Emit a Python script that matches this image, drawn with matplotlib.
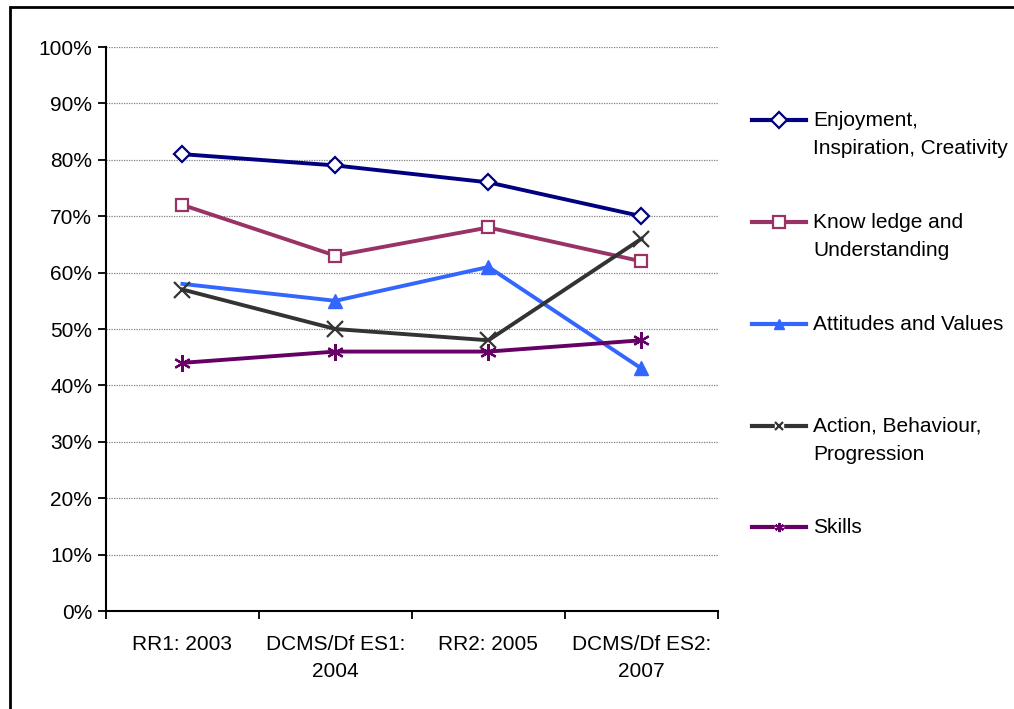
import matplotlib
matplotlib.use("Agg")
import matplotlib.pyplot as plt
from matplotlib.lines import Line2D
from matplotlib.patches import Rectangle

plt.rcParams['font.family'] = ['Liberation Sans', 'DejaVu Sans']

categories = ["RR1: 2003", "DCMS/Df ES1:\n2004", "RR2: 2005", "DCMS/Df ES2:\n2007"]
y_ticks = [0, 10, 20, 30, 40, 50, 60, 70, 80, 90, 100]

enjoyment = [81, 79, 76, 70]
knowledge = [72, 63, 68, 62]
attitudes = [58, 55, 61, 43]
action = [57, 50, 48, 66]
skills = [44, 46, 46, 48]

series = [
    ("Enjoyment,\nInspiration, Creativity", enjoyment, "#000080",
     dict(marker="D", ms=8, mfc="white", mec="#000080", mew=1.6), [0, 1, 2, 3], 1.0),
    ("Know ledge and\nUnderstanding", knowledge, "#993366",
     dict(marker="s", ms=9, mfc="white", mec="#993366", mew=1.6), [0, 1, 2, 3], 1.0),
    ("Attitudes and Values", attitudes, "#3366FF",
     dict(marker="^", ms=10, mfc="#3366FF", mec="#3366FF", mew=1), [1, 2, 3], 0.7),
    ("Action, Behaviour,\nProgression", action, "#333333",
     dict(marker="x", ms=11, mec="#333333", mew=1.6), [0, 1, 2, 3], 0.55),
    ("Skills", skills, "#660066",
     dict(marker=(6, 2, 0), ms=12, mec="#660066", mew=1.6), [0, 1, 2, 3], 0.55),
]

fig = plt.figure(figsize=(10.14, 7.09), dpi=100)
fig.patch.set_facecolor("white")
ax = fig.add_axes([0.1045, 0.1382, 0.6035, 0.7955])

x = list(range(len(categories)))
for label, vals, color, mk, every, _ in series:
    ax.plot(x, vals, color=color, lw=2.8, markevery=every, clip_on=False,
            zorder=3, **mk)

ax.set_xlim(-0.5, len(categories) - 0.5)
ax.set_ylim(0, 100)
ax.set_yticks(y_ticks)
ax.set_yticklabels([f"{v}%" for v in y_ticks], fontsize=15)
ax.set_xticks([i - 0.5 for i in range(len(categories) + 1)])
ax.set_xticklabels([])
ax.set_xticks(x, minor=True)
ax.set_xticklabels(categories, minor=True, fontsize=15, linespacing=1.55,
                   va="top")
ax.tick_params(axis="x", which="minor", length=0, pad=17)
ax.tick_params(axis="x", which="major", length=6, width=1.3, direction="out")
ax.tick_params(axis="y", length=6, width=1.3, direction="out", pad=4)

for v in y_ticks[1:]:
    ax.axhline(v, color="#808080", lw=0.9, ls=(0, (1, 1)), zorder=1)

for side in ("top", "right"):
    ax.spines[side].set_visible(False)
for side in ("left", "bottom"):
    ax.spines[side].set_linewidth(1.5)
    ax.spines[side].set_color("black")

# Legend drawn in figure pixels so each handle sits on its first text line
W, H = 1014, 709
legend_y = [120, 222, 324, 426, 527]
for (label, vals, color, mk, every, scale), py in zip(series, legend_y):
    fy = 1 - py / H
    fig.add_artist(Line2D([752 / W, 806 / W], [fy, fy], color=color, lw=3,
                          transform=fig.transFigure))
    small = dict(mk)
    small["ms"] = mk["ms"] * scale
    if "mfc" not in small:
        small["mfc"] = "white"
    if mk["marker"] in ("x", (6, 2, 0)):
        # break the handle line around the thin markers
        fig.add_artist(Line2D([779 / W], [fy], lw=0, transform=fig.transFigure,
                              marker="s", ms=small["ms"] * 0.9,
                              mfc="white", mec="white"))
    fig.add_artist(Line2D([779 / W], [fy], color=color, lw=0,
                          transform=fig.transFigure, **small))
    fig.text(813 / W, fy + 9 / H, label, fontsize=15, va="top", ha="left",
             linespacing=1.62, transform=fig.transFigure)

# outer frame of the chart area
fig.add_artist(Rectangle((10 / W, -0.1), 1.2, 1 - 7 / H + 0.1,
                         transform=fig.transFigure, fill=False,
                         ec="black", lw=2))

fig.savefig("out.png", dpi=100)
